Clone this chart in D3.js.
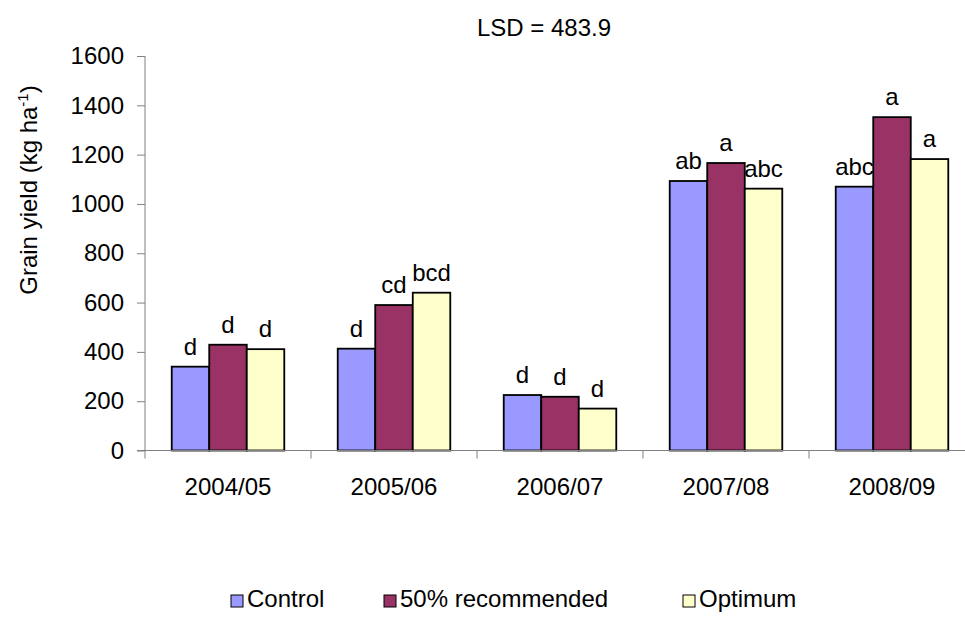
<!DOCTYPE html>
<html>
<head>
<meta charset="utf-8">
<script src="https://cdn.jsdelivr.net/npm/d3@7"></script>
<style>
  html, body { margin: 0; padding: 0; background: #fff; }
  svg { display: block; font-family: "Liberation Sans", Arial, sans-serif; }
</style>
</head>
<body>
<svg id="chart" width="965" height="618"></svg>
<script>
const categories = ["2004/05", "2005/06", "2006/07", "2007/08", "2008/09"];
const seriesNames = ["Control", "50% recommended", "Optimum"];
const seriesColors = ["#9999FF", "#993366", "#FFFFCC"];
const controlValues = [340, 413, 225, 1093, 1070];
const recommendedValues = [429, 590, 218, 1166, 1352];
const optimumValues = [411, 640, 170, 1062, 1182];
const controlLetters = ["d", "d", "d", "ab", "abc"];
const recommendedLetters = ["d", "cd", "d", "a", "a"];
const optimumLetters = ["d", "bcd", "d", "abc", "a"];
const yTicks = [0, 200, 400, 600, 800, 1000, 1200, 1400, 1600];
const titleText = "LSD = 483.9";

const seriesValues = [controlValues, recommendedValues, optimumValues];
const seriesLetters = [controlLetters, recommendedLetters, optimumLetters];

const svg = d3.select("#chart");
const fontSize = 24;

const x = d3.scaleBand().domain(categories).range([145, 975]).paddingInner(0).paddingOuter(0);
const bw = x.bandwidth();
const xs = d3.scaleBand().domain(seriesNames).range([bw * 0.161, bw * 0.839]).padding(0);
const y = d3.scaleLinear().domain([0, 1600]).range([450.5, 56]);

// Title
svg.append("text").attr("x", 544).attr("y", 36).attr("text-anchor", "middle")
  .attr("font-size", fontSize).text(titleText);

// Bars
const data = [];
categories.forEach((c, i) => {
  seriesNames.forEach((s, j) => {
    data.push({cat: c, ser: s, j, v: seriesValues[j][i], lab: seriesLetters[j][i]});
  });
});

svg.append("g").selectAll("rect").data(data).join("rect")
  .attr("x", d => x(d.cat) + xs(d.ser))
  .attr("y", d => y(d.v))
  .attr("width", xs.bandwidth())
  .attr("height", d => y(0) - y(d.v))
  .attr("fill", d => seriesColors[d.j])
  .attr("stroke", "#000").attr("stroke-width", 1.8);

// Y axis
const yAxis = d3.axisLeft(y).tickValues(yTicks).tickSize(8).tickPadding(13).tickFormat(d3.format("d"));
const gy = svg.append("g").attr("transform", "translate(145,0)").call(yAxis);
gy.select(".domain").attr("stroke", "#808080").attr("d", `M-0,${y(1600)}V${y(0)}`);
gy.selectAll(".tick line").attr("stroke", "#808080");
gy.selectAll(".tick text").attr("font-size", fontSize).attr("font-family", "Liberation Sans, Arial, sans-serif").attr("fill", "#000");

// X axis
const xBoundaryScale = d3.scaleLinear().domain([0, categories.length]).range([145, 975]);
const gx = svg.append("g").attr("transform", `translate(0,${y(0)})`);
gx.append("line").attr("x1", 137).attr("x2", 975).attr("y1", 0).attr("y2", 0).attr("stroke", "#808080");
gx.selectAll("line.tk").data(d3.range(0, categories.length + 1)).join("line").attr("class", "tk")
  .attr("x1", d => xBoundaryScale(d)).attr("x2", d => xBoundaryScale(d))
  .attr("y1", 0).attr("y2", 8).attr("stroke", "#808080");
gx.selectAll("text").data(categories).join("text")
  .attr("x", d => x(d) + bw / 2).attr("y", 44).attr("text-anchor", "middle")
  .attr("font-size", fontSize).text(d => d);

// Data letters
svg.append("g").selectAll("text").data(data).join("text")
  .attr("x", d => x(d.cat) + xs(d.ser) + xs.bandwidth() / 2)
  .attr("y", d => y(d.v) - 12)
  .attr("text-anchor", "middle").attr("font-size", fontSize).text(d => d.lab);

// Y axis title
const yt = svg.append("text").attr("transform", `translate(37,190) rotate(-90)`)
  .attr("text-anchor", "middle").attr("font-size", fontSize);
yt.append("tspan").text("Grain yield (kg ha");
yt.append("tspan").attr("dy", -9).attr("font-size", 15).text("-1");
yt.append("tspan").attr("dy", 9).text(")");

// Legend
const legendX = [231, 384, 683];
const lg = svg.append("g").selectAll("g").data(seriesNames).join("g")
  .attr("transform", (d, i) => `translate(${legendX[i]},607)`);
lg.append("rect").attr("x", 0).attr("y", -12).attr("width", 12).attr("height", 12)
  .attr("fill", (d, i) => seriesColors[i]).attr("stroke", "#000").attr("stroke-width", 1);
lg.append("text").attr("x", 16).attr("y", 0).attr("font-size", fontSize).text(d => d);
</script>
</body>
</html>
